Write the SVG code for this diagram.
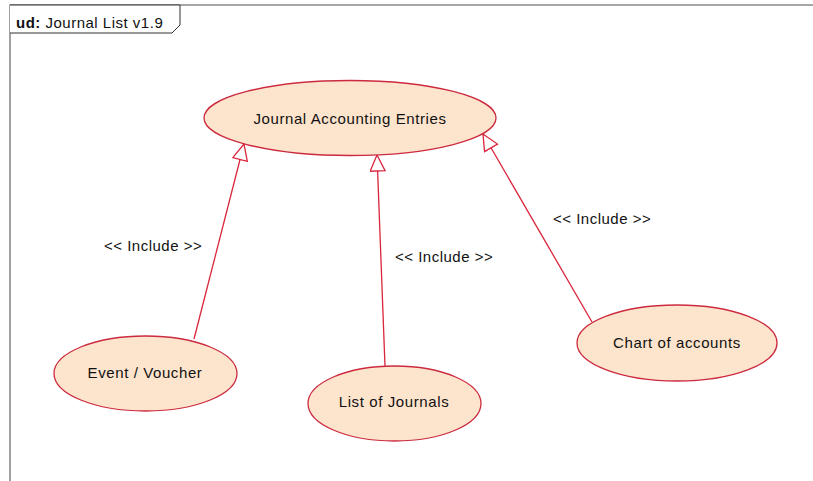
<svg xmlns="http://www.w3.org/2000/svg" width="813" height="481" viewBox="0 0 813 481">
<style>
.uc{fill:#fde4cd;stroke:#cc2a3f;stroke-width:1.3}
.lbl{font-family:"Liberation Sans",Arial,sans-serif;font-size:15px;fill:#111;text-anchor:middle;letter-spacing:0.6px}
.inc{font-family:"Liberation Sans",Arial,sans-serif;font-size:15px;fill:#111;letter-spacing:0.5px}
.con{stroke:#d9263c;stroke-width:1.3;fill:none;marker-end:url(#tri)}
</style>
<defs>
<marker id="tri" markerUnits="userSpaceOnUse" markerWidth="18" markerHeight="18" refX="17" refY="8" orient="auto" viewBox="0 0 18 18">
<path d="M1,0.5 L17,8 L1,15.5 Z" fill="#fff" stroke="#d9263c" stroke-width="1.3"/>
</marker>
</defs>
<rect width="813" height="481" fill="#fff"/>
<g id="frame">
<path d="M10,481 V5 H813" fill="none" stroke="#8a8a8a" stroke-width="1.6"/>
<path d="M10,5 H180 V25 L172,33 H10" fill="#fff" stroke="#333" stroke-width="1"/>
<text x="16" y="28" font-family="'Liberation Sans',Arial,sans-serif" font-size="15" fill="#111" letter-spacing="0.5"><tspan font-weight="bold">ud:</tspan> Journal List v1.9</text>
</g>
<g id="connectors">
<line class="con" x1="194" y1="339" x2="244" y2="144"/>
<line class="con" x1="385" y1="366" x2="377" y2="155"/>
<line class="con" x1="592" y1="322" x2="483" y2="134"/>
<text class="inc" x="104" y="251">&lt;&lt; Include &gt;&gt;</text>
<text class="inc" x="395" y="262">&lt;&lt; Include &gt;&gt;</text>
<text class="inc" x="553" y="224">&lt;&lt; Include &gt;&gt;</text>
</g>
<g id="journal-accounting-entries">
<ellipse class="uc" cx="350" cy="118" rx="146" ry="37.5"/>
<text class="lbl" x="350" y="123.5">Journal Accounting Entries</text>
</g>
<g id="event-voucher">
<ellipse class="uc" cx="145.5" cy="373.5" rx="91.5" ry="37.5"/>
<text class="lbl" x="145" y="377.5">Event / Voucher</text>
</g>
<g id="list-of-journals">
<ellipse class="uc" cx="394.5" cy="403.5" rx="86.5" ry="37.5"/>
<text class="lbl" x="394" y="406.5">List of Journals</text>
</g>
<g id="chart-of-accounts">
<ellipse class="uc" cx="677" cy="343" rx="100" ry="38"/>
<text class="lbl" x="677" y="347.5">Chart of accounts</text>
</g>
</svg>
